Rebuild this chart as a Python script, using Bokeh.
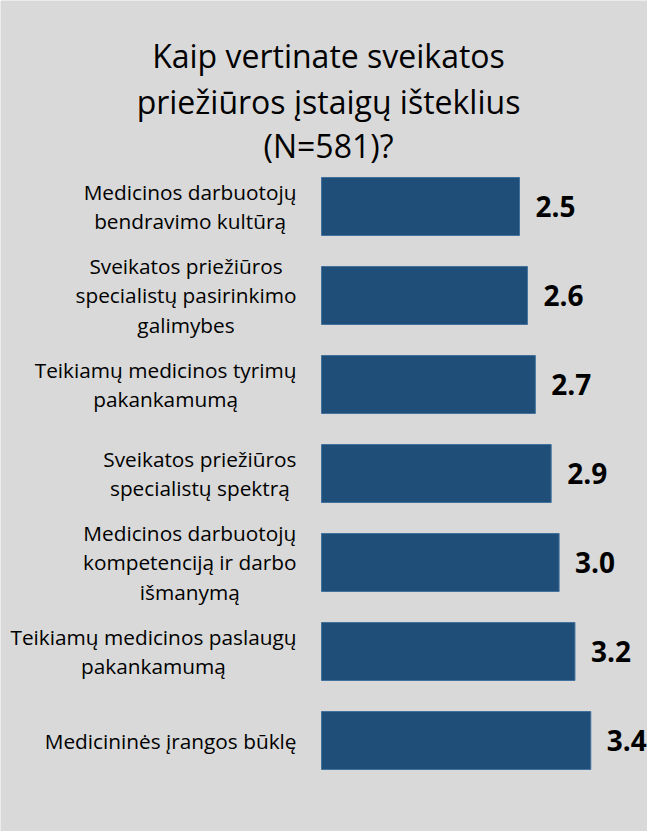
from bokeh.plotting import figure
from bokeh.models import Range1d, ColumnDataSource
from bokeh.core.properties import value
from bokeh.embed import file_html
from bokeh.resources import INLINE

# ---- data ----
title_lines = ["Kaip vertinate sveikatos", "priežiūros įstaigų išteklius", "(N=581)?"]
categories = [
    "Medicinos darbuotojų\nbendravimo kultūrą",
    "Sveikatos priežiūros\nspecialistų pasirinkimo\ngalimybes",
    "Teikiamų medicinos tyrimų\npakankamumą",
    "Sveikatos priežiūros\nspecialistų spektrą",
    "Medicinos darbuotojų\nkompetenciją ir darbo\nišmanymą",
    "Teikiamų medicinos paslaugų\npakankamumą",
    "Medicininės įrangos būklę",
]
values = [2.5, 2.6, 2.7, 2.9, 3.0, 3.2, 3.4]
value_labels = ["%.1f" % v for v in values]

# ---- layout ----
W, H = 647, 831
PX_X = 79.2      # px per unit on x
X0 = 321         # px of x=0 from figure left
ROW = 89         # px per category row
Y0 = 206         # px of first bar centre from figure top
BAR_H = 0.652
LABEL_GAP = 25   # px between category label and bar start
FONT = "Open Sans"
BG = "#d9d9d9"

rows = list(range(len(categories)))

p = figure(width=W, height=H, output_backend="svg", toolbar_location=None,
           x_range=Range1d(-X0 / PX_X, (W - X0) / PX_X),
           y_range=Range1d((H - Y0) / ROW, -Y0 / ROW),
           min_border=0, background_fill_color=BG, border_fill_color=BG,
           outline_line_color=None)
p.axis.visible = False
p.grid.visible = False

src = ColumnDataSource(dict(y=rows, v=values, lab=value_labels, cat=categories,
                            lx=[-LABEL_GAP / PX_X] * len(rows)))

p.hbar(y="y", left=0, right="v", height=BAR_H, source=src,
       fill_color="#1f4e79", line_color="#41719c", line_width=1)

p.text(x="v", y="y", text="lab", source=src, x_offset=16,
       text_align="left", text_baseline="middle",
       text_font=value(FONT), text_font_style="bold",
       text_font_size="28px", text_color="#000000")

p.text(x="lx", y="y", text="cat", source=src,
       anchor="center_right", text_align="center", text_baseline="middle",
       text_font=value(FONT), text_font_size="20.8px", text_line_height=1.04,
       text_color="#000000")

title_baselines_px = [55, 101, 145]
tsrc = ColumnDataSource(dict(
    x=[(328 - X0) / PX_X] * 3,
    y=[(b - Y0) / ROW for b in title_baselines_px],
    t=title_lines))
p.text(x="x", y="y", text="t", source=tsrc, text_align="center",
       text_baseline="alphabetic", text_font=value(FONT),
       text_font_size="32px", text_color="#000000")

open("out.html", "w").write(file_html(p, INLINE))
